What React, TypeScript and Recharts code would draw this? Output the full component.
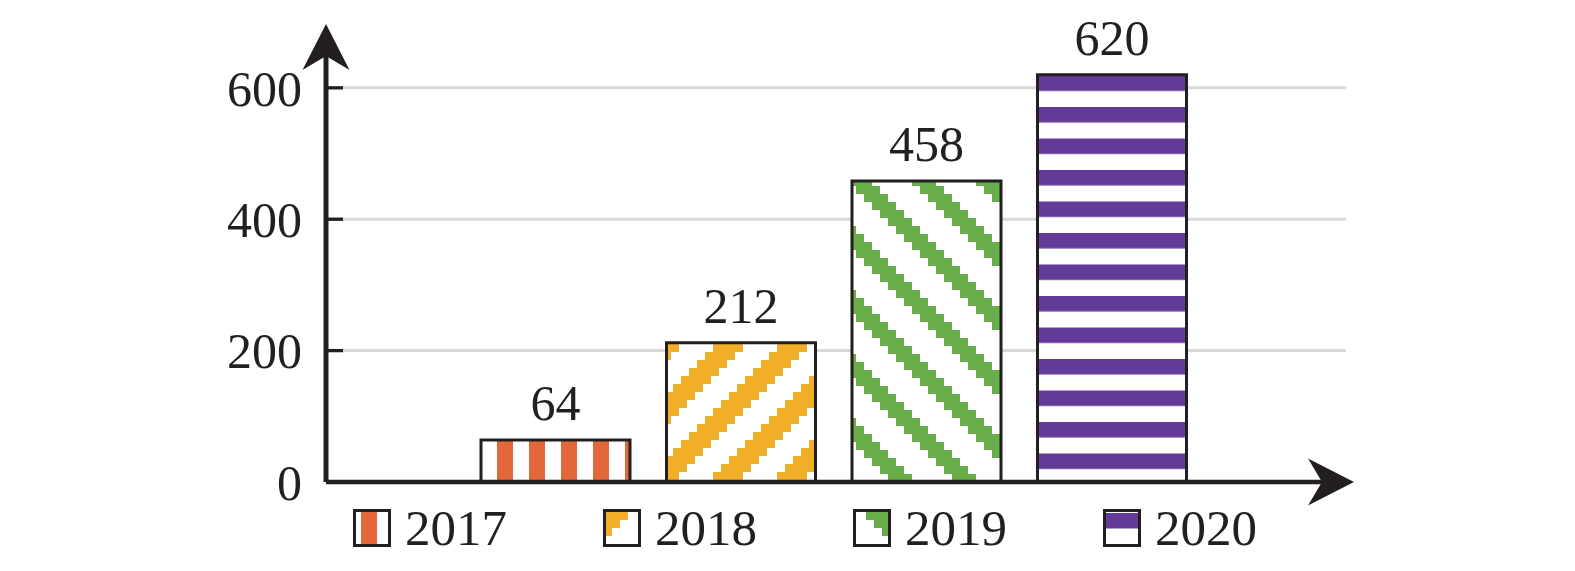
import { BarChart, Bar, Cell, XAxis, YAxis, CartesianGrid, LabelList, Legend } from "recharts";

const years = ["2017", "2018", "2019", "2020"];
const counts = [64, 212, 458, 620];
const yTicks = [0, 200, 400, 600];

const INK = "#231F20";
const FONT = '"Liberation Serif", "Times New Roman", serif';
const COLORS = ["#E4673A", "#F0AF26", "#69AD4B", "#643A99"];

const data = years.map((year, i) => ({ year, value: counts[i] }));

// stepped diagonal stripe tile (8px steps, 64px period)
function diagTile(id: string, color: string, c: number, dir: number, w: number, oy: number) {
  const rects = [];
  for (let r = 0; r < 8; r++) {
    const s = (((c + dir * 8 * r) % 64) + 64) % 64;
    rects.push(<rect key={`a${r}`} x={s} y={r * 8} width={w} height={8} fill={color} />);
    rects.push(<rect key={`b${r}`} x={s - 64} y={r * 8} width={w} height={8} fill={color} />);
  }
  return (
    <pattern id={id} patternUnits="userSpaceOnUse" x={0} y={oy} width={64} height={64}>
      <rect width={64} height={64} fill="#fff" />
      {rects}
    </pattern>
  );
}

function vTile(id: string, ox: number) {
  return (
    <pattern id={id} patternUnits="userSpaceOnUse" x={ox} y={0} width={32} height={32}>
      <rect width={32} height={32} fill="#fff" />
      <rect width={16} height={32} fill={COLORS[0]} />
    </pattern>
  );
}

function hTile(id: string, oy: number) {
  return (
    <pattern id={id} patternUnits="userSpaceOnUse" x={0} y={oy} width={32} height={31.5}>
      <rect width={32} height={31.5} fill="#fff" />
      <rect width={32} height={15.5} fill={COLORS[3]} />
    </pattern>
  );
}

function Defs() {
  return (
    <svg width={0} height={0} style={{ position: "absolute" }}>
      <defs>
        {vTile("p0", 17)}
        {diagTile("p1", COLORS[1], 33, -1, 30, 0)}
        {diagTile("p2", COLORS[2], 32, 1, 24, 2)}
        {hTile("p3", 12.5)}
        {vTile("i0", 8)}
        {diagTile("i1", COLORS[1], 59, -1, 30, 3)}
        {diagTile("i2", COLORS[2], 13, 1, 24, 3)}
        <pattern id="i3" patternUnits="userSpaceOnUse" width={38} height={38}>
          <rect width={38} height={38} fill="#fff" />
          <rect y={4} width={38} height={15.5} fill={COLORS[3]} />
        </pattern>
        <marker
          id="arrow"
          markerUnits="userSpaceOnUse"
          viewBox="-50 -30 60 60"
          markerWidth={60}
          markerHeight={60}
          refX={-8}
          refY={0}
          orient="auto-start-reverse"
          overflow="visible"
        >
          <path d="M0,0 L-46,-23.5 L-32,0 L-46,23.5 Z" fill={INK} />
        </marker>
      </defs>
    </svg>
  );
}

// grey grid line with a short dark tick on the axis side
function gridLine(props: any) {
  const { x1, y1, x2, index } = props;
  if (y1 < 60) return <g key={`g-${index}`} />;
  return (
    <g key={`g-${index}`}>
      <line x1={x1} y1={y1} x2={x2} y2={y1} stroke="#D9D9D9" strokeWidth={3} />
      <line x1={x1} y1={y1} x2={x1 + 17} y2={y1} stroke={INK} strokeWidth={3.3} />
    </g>
  );
}

function LegendBox() {
  return (
    <div style={{ display: "flex" }}>
      {years.map((y, i) => (
        <div key={y} style={{ width: 250, display: "flex", alignItems: "center" }}>
          <svg width={38} height={38}>
            <rect x={1.5} y={1.5} width={35} height={35} fill={`url(#i${i})`} stroke={INK} strokeWidth={3} />
          </svg>
          <span style={{ marginLeft: 14, fontFamily: FONT, fontSize: 51, lineHeight: "38px", color: INK }}>{y}</span>
        </div>
      ))}
    </div>
  );
}

export default function App() {
  return (
    <div style={{ position: "relative", width: 1575, height: 571, background: "#fff" }}>
      <style>{"body{margin:0}"}</style>
      <Defs />
      <BarChart width={1575} height={571} data={data} margin={{ top: 32, right: 229, bottom: 88, left: 0 }}>
        <CartesianGrid vertical={false} horizontal={gridLine} />
        <XAxis
          dataKey="year"
          height={1}
          padding={{ left: 137, right: 141 }}
          tick={false}
          tickLine={false}
          axisLine={{ stroke: INK, strokeWidth: 4.5, markerEnd: "url(#arrow)" }}
        />
        <YAxis
          type="number"
          width={326}
          domain={[0, 685]}
          ticks={yTicks}
          allowDataOverflow
          tickLine={false}
          tickSize={0}
          tickMargin={24}
          tick={{ fontSize: 50, fill: INK, fontFamily: FONT }}
          axisLine={{ stroke: INK, strokeWidth: 5, markerStart: "url(#arrow)" }}
        />
        <Legend
          layout="horizontal"
          verticalAlign="middle"
          align="center"
          wrapperStyle={{ left: 353, top: 509, width: 1060, height: 40 }}
          content={() => <LegendBox />}
        />
        <Bar dataKey="value" barSize={149} stroke={INK} strokeWidth={3} isAnimationActive={false}>
          {data.map((d, i) => (
            <Cell key={d.year} fill={`url(#p${i})`} />
          ))}
          <LabelList dataKey="value" position="top" offset={20} fill={INK} fontSize={50} fontFamily={FONT} />
        </Bar>
      </BarChart>
    </div>
  );
}
